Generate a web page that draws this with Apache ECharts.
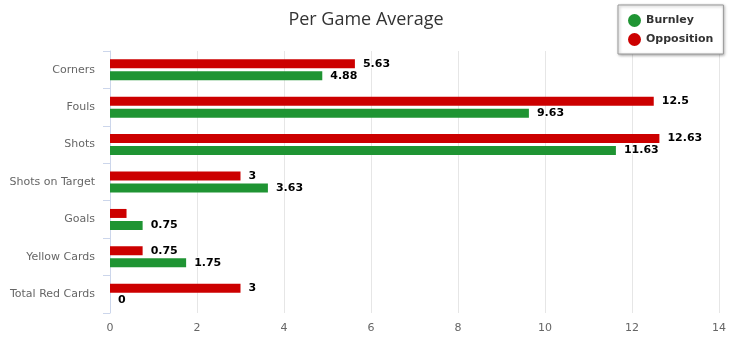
<!DOCTYPE html>
<html>
<head>
<meta charset="utf-8">
<script src="https://cdn.jsdelivr.net/npm/echarts@6/dist/echarts.min.js"></script>
<style>
    html, body { margin: 0; padding: 0; background: #fff; }
    #chart { width: 732px; height: 350px; }
</style>
</head>
<body>
<div id="chart"></div>
<script>
    var categories = ['Corners', 'Fouls', 'Shots', 'Shots on Target', 'Goals', 'Yellow Cards', 'Total Red Cards'];
    var burnley = [4.88, 9.63, 11.63, 3.63, 0.75, 1.75, 0];
    var opposition = [5.63, 12.5, 12.63, 3, 0.38, 0.75, 3];
    var xTicks = [0, 2, 4, 6, 8, 10, 12, 14];

    var labelStyle = {
        show: true,
        position: 'right',
        distance: 8,
        color: '#000',
        fontWeight: 'bold',
        fontSize: 11,
        fontFamily: 'DejaVu Sans',
        textBorderColor: '#fff',
        textBorderWidth: 2
    };

    var chart = echarts.init(document.getElementById('chart'));
    chart.setOption({
        animation: false,
        title: {
            text: 'Per Game Average',
            left: 'center',
            top: 6,
            textStyle: { fontFamily: 'Open Sans', fontWeight: 'normal', fontSize: 18, color: '#333' }
        },
        legend: {
            orient: 'vertical',
            left: 618,
            top: 5,
            padding: [9, 10, 8, 10],
            itemGap: 6,
            icon: 'circle',
            itemWidth: 13,
            itemHeight: 13,
            borderColor: '#999',
            borderWidth: 1,
            backgroundColor: '#fff',
            shadowColor: 'rgba(0,0,0,0.35)',
            shadowBlur: 3,
            shadowOffsetX: 1,
            shadowOffsetY: 1,
            textStyle: { fontFamily: 'DejaVu Sans', fontWeight: 'bold', fontSize: 11, color: '#333' },
            data: ['Burnley', 'Opposition']
        },
        grid: { left: 110, right: 13, top: 51, bottom: 37 },
        xAxis: {
            type: 'value',
            min: 0,
            max: 14,
            interval: 2,
            axisLine: { show: false },
            axisTick: { show: false },
            splitLine: { lineStyle: { color: '#e6e6e6' } },
            axisLabel: {
                color: '#666', fontSize: 11, fontFamily: 'DejaVu Sans', margin: 10,
                formatter: function (v) { return xTicks.indexOf(v) >= 0 ? String(v) : ''; }
            }
        },
        yAxis: {
            type: 'category',
            inverse: true,
            data: categories,
            axisLine: { lineStyle: { color: '#ccd6eb' } },
            axisTick: { show: true, length: 7, lineStyle: { color: '#ccd6eb' } },
            axisLabel: { color: '#666', fontSize: 11, fontFamily: 'DejaVu Sans', margin: 15 }
        },
        series: [
            {
                name: 'Opposition',
                type: 'bar',
                data: opposition.map(function (v, i) {
                    return categories[i] === 'Goals' ? { value: v, label: { show: false } } : v;
                }),
                barWidth: 9,
                barGap: '33%',
                itemStyle: { color: '#cc0000' },
                label: labelStyle
            },
            {
                name: 'Burnley',
                type: 'bar',
                data: burnley,
                barWidth: 9,
                itemStyle: { color: '#1f9433' },
                label: labelStyle
            }
        ]
    });
</script>
</body>
</html>
